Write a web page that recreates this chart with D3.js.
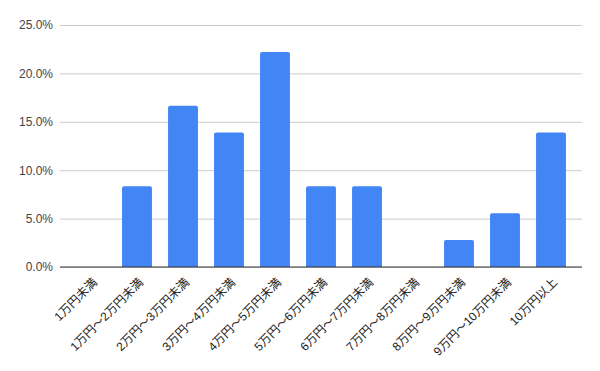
<!DOCTYPE html>
<html>
<head>
<meta charset="utf-8">
<script src="https://cdn.jsdelivr.net/npm/d3@7"></script>
<style>
  body { margin: 0; background: #fff; }
  svg { display: block; font-family: "Liberation Sans", Arial, "Noto Sans CJK JP", sans-serif; }
</style>
</head>
<body>
<div id="chart"></div>
<script>
const categories = ["1万円未満", "1万円～2万円未満", "2万円～3万円未満", "3万円～4万円未満", "4万円～5万円未満",
  "5万円～6万円未満", "6万円～7万円未満", "7万円～8万円未満", "8万円～9万円未満", "9万円～10万円未満", "10万円以上"];
const values = [0, 0.0833, 0.1667, 0.1389, 0.2222, 0.0833, 0.0833, 0, 0.0278, 0.0556, 0.1389];
const yTicks = [0, 0.05, 0.10, 0.15, 0.20, 0.25];

const width = 600, height = 371;
const plotLeft = 60, plotRight = 582, plotTop = 25, plotBottom = 267;

const svg = d3.select("#chart").append("svg")
  .attr("width", width)
  .attr("height", height);

const x = d3.scaleBand()
  .domain(categories)
  .range([68, 574])
  .paddingInner(0.35)
  .paddingOuter(0.175);

const y = d3.scaleLinear()
  .domain([0, 0.25])
  .range([plotBottom, plotTop]);

// gridlines + y labels
const yAxis = svg.append("g")
  .attr("transform", `translate(${plotLeft},0)`)
  .call(d3.axisLeft(y).tickValues(yTicks).tickFormat(d3.format(".1%")).tickSize(-(plotRight - plotLeft)).tickPadding(7));
yAxis.select(".domain").remove();
yAxis.selectAll("line").attr("stroke", "#cccccc");
yAxis.selectAll("text").attr("fill", "#444").style("font-size", "12px");

// bars with small rounded tops
svg.selectAll("path.bar")
  .data(values.map((v, i) => ({ c: categories[i], v })).filter(d => d.v > 0))
  .enter()
  .append("path")
  .attr("class", "bar")
  .attr("fill", "#4285f4")
  .attr("d", d => {
    const x0 = x(d.c), w = x.bandwidth(), y0 = y(d.v), r = 2;
    return `M${x0},${plotBottom}V${y0 + r}Q${x0},${y0} ${x0 + r},${y0}H${x0 + w - r}Q${x0 + w},${y0} ${x0 + w},${y0 + r}V${plotBottom}Z`;
  });

// baseline
svg.append("line")
  .attr("x1", plotLeft).attr("x2", plotRight)
  .attr("y1", plotBottom).attr("y2", plotBottom)
  .attr("stroke", "#333").attr("stroke-width", 1);

// x labels rotated
svg.append("g").selectAll("text")
  .data(categories)
  .enter()
  .append("text")
  .attr("transform", d => `translate(${x(d) + x.bandwidth() / 2 + 4},${plotBottom + 13}) rotate(-45)`)
  .attr("text-anchor", "end")
  .attr("dy", "0.35em")
  .attr("fill", "#222")
  .style("font-size", "12px")
  .text(d => d);
</script>
</body>
</html>
